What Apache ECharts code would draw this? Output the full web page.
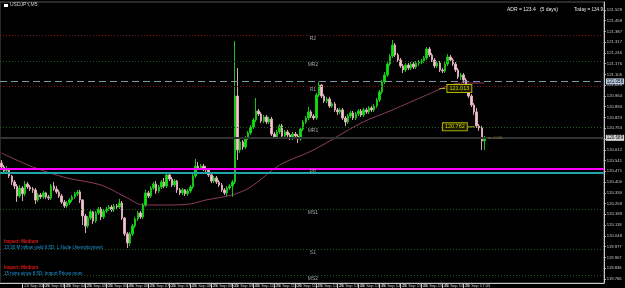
<!DOCTYPE html>
<html><head><meta charset="utf-8">
<script src="https://cdn.jsdelivr.net/npm/echarts@6/dist/echarts.min.js"></script>
<style>html,body{margin:0;padding:0;background:#000;}#c{width:625px;height:288px;}</style>
</head><body><div id="c"></div>
<script>
// ---- data ----
const timeLabels = ['20 Sep 2016','20 Sep 03:05','20 Sep 03:45','20 Sep 04:25','20 Sep 05:05','20 Sep 05:45','20 Sep 06:25','20 Sep 07:05','20 Sep 07:45','20 Sep 08:25','20 Sep 09:05','20 Sep 09:45','20 Sep 10:25','20 Sep 11:05','20 Sep 11:45','20 Sep 12:25','20 Sep 13:05','20 Sep 13:45','20 Sep 14:25','20 Sep 15:05','20 Sep 15:45','20 Sep 16:25','20 Sep 17:05','20 Sep 17:45'];
const openP = [
120.525,120.499,120.473,120.486,120.440,120.401,120.374,120.309,120.361,120.323,
120.388,120.368,120.355,120.349,120.283,120.316,120.303,120.329,120.303,120.296,
120.374,120.355,120.336,120.309,120.270,120.244,120.263,120.283,120.303,120.323,
120.336,120.283,120.178,120.113,120.165,120.205,120.146,120.198,120.224,120.172,
120.211,120.224,120.237,120.218,120.244,120.237,120.263,120.165,120.061,120.001,
120.061,120.113,120.159,120.198,120.172,120.250,120.329,120.309,120.361,120.388,
120.342,120.368,120.401,120.374,120.447,120.420,120.381,120.407,120.349,120.329,
120.349,120.323,120.342,120.368,120.440,120.505,120.492,120.505,120.486,120.480,
120.447,120.407,120.427,120.401,120.381,120.349,120.329,120.361,120.374,120.401,
120.964,120.611,120.663,120.630,120.689,120.722,120.761,120.807,120.866,120.846,
120.800,120.827,120.794,120.813,120.715,120.696,120.729,120.768,120.702,120.729,
120.709,120.689,120.715,120.702,120.683,120.748,120.794,120.820,120.860,120.833,
120.820,120.971,121.036,120.964,120.931,120.944,120.898,120.912,120.873,120.860,
120.873,120.820,120.794,120.833,120.853,120.820,120.846,120.866,120.840,120.873,
120.860,120.886,120.873,120.899,120.938,120.991,121.056,121.102,121.174,121.226,
121.298,121.233,121.200,121.161,121.135,121.167,121.148,121.174,121.154,121.180,
121.187,121.193,121.213,121.272,121.233,121.200,121.161,121.180,121.135,121.128,
121.174,121.220,121.200,121.174,121.135,121.089,121.102,121.069,121.030,120.964,
120.905,120.860,120.768,120.755,120.670];
const closeP = [
120.499,120.473,120.486,120.440,120.401,120.374,120.309,120.361,120.323,120.388,
120.368,120.355,120.349,120.283,120.316,120.303,120.329,120.303,120.296,120.374,
120.355,120.336,120.309,120.270,120.244,120.263,120.283,120.303,120.323,120.336,
120.283,120.178,120.113,120.165,120.205,120.146,120.198,120.224,120.172,120.211,
120.224,120.237,120.218,120.244,120.237,120.263,120.165,120.061,120.001,120.061,
120.113,120.159,120.198,120.172,120.250,120.329,120.309,120.361,120.388,120.342,
120.368,120.401,120.374,120.447,120.420,120.381,120.407,120.349,120.329,120.349,
120.323,120.342,120.368,120.440,120.505,120.492,120.505,120.486,120.480,120.447,
120.407,120.427,120.401,120.381,120.349,120.329,120.361,120.374,120.401,120.964,
120.611,120.663,120.630,120.689,120.722,120.761,120.807,120.866,120.846,120.800,
120.827,120.794,120.813,120.715,120.696,120.729,120.768,120.702,120.729,120.709,
120.689,120.715,120.702,120.683,120.748,120.794,120.820,120.860,120.833,120.820,
120.971,121.036,120.964,120.931,120.944,120.898,120.912,120.873,120.860,120.873,
120.820,120.794,120.833,120.853,120.820,120.846,120.866,120.840,120.873,120.860,
120.886,120.873,120.899,120.938,120.991,121.056,121.102,121.174,121.226,121.298,
121.233,121.200,121.161,121.135,121.167,121.148,121.174,121.154,121.180,121.187,
121.193,121.213,121.272,121.233,121.200,121.161,121.180,121.135,121.128,121.174,
121.220,121.200,121.174,121.135,121.089,121.102,121.069,121.030,120.964,120.905,
120.860,120.768,120.755,120.670,120.689];
const highP = [
120.545,120.512,120.505,120.492,120.447,120.414,120.388,120.381,120.374,120.407,
120.401,120.381,120.368,120.361,120.329,120.329,120.342,120.336,120.316,120.388,
120.401,120.374,120.349,120.323,120.283,120.276,120.296,120.316,120.336,120.349,
120.349,120.289,120.192,120.178,120.218,120.211,120.211,120.237,120.237,120.224,
120.237,120.250,120.250,120.257,120.257,120.290,120.276,120.172,120.074,120.074,
120.126,120.172,120.211,120.211,120.263,120.349,120.342,120.374,120.401,120.407,
120.381,120.414,120.427,120.460,120.453,120.434,120.420,120.414,120.361,120.361,
120.355,120.355,120.381,120.453,120.552,120.532,120.519,120.519,120.505,120.492,
120.460,120.440,120.440,120.414,120.394,120.361,120.374,120.388,120.414,121.324,
121.147,120.683,120.676,120.702,120.735,120.774,120.820,120.951,120.879,120.859,
120.840,120.840,120.827,120.827,120.729,120.742,120.781,120.781,120.742,120.742,
120.722,120.729,120.729,120.715,120.761,120.807,120.833,120.892,120.873,120.846,
120.984,121.056,121.043,120.977,120.958,120.958,120.925,120.925,120.886,120.886,
120.886,120.833,120.846,120.866,120.866,120.859,120.879,120.879,120.886,120.886,
120.899,120.899,120.912,120.951,121.004,121.069,121.121,121.187,121.239,121.331,
121.311,121.246,121.213,121.174,121.180,121.180,121.187,121.187,121.193,121.200,
121.207,121.226,121.285,121.285,121.246,121.213,121.193,121.193,121.148,121.187,
121.239,121.233,121.213,121.187,121.148,121.115,121.115,121.082,121.043,120.977,
120.918,120.886,120.781,120.768,120.702];
const lowP = [
120.486,120.460,120.454,120.427,120.381,120.355,120.270,120.296,120.276,120.309,
120.355,120.342,120.329,120.257,120.270,120.290,120.290,120.290,120.283,120.283,
120.342,120.323,120.296,120.257,120.231,120.231,120.250,120.270,120.290,120.309,
120.263,120.119,120.067,120.100,120.152,120.126,120.133,120.185,120.152,120.159,
120.198,120.211,120.205,120.205,120.224,120.224,120.152,120.047,119.968,119.982,
120.047,120.100,120.146,120.159,120.159,120.237,120.296,120.296,120.349,120.323,
120.329,120.355,120.361,120.361,120.407,120.368,120.368,120.329,120.316,120.316,
120.309,120.309,120.329,120.355,120.427,120.480,120.480,120.473,120.460,120.434,
120.394,120.394,120.388,120.368,120.336,120.316,120.309,120.349,120.303,120.388,
120.545,120.591,120.611,120.617,120.676,120.709,120.748,120.794,120.833,120.787,
120.787,120.781,120.781,120.702,120.683,120.683,120.715,120.689,120.689,120.696,
120.676,120.676,120.689,120.656,120.670,120.735,120.781,120.807,120.820,120.807,
120.807,120.958,120.951,120.918,120.918,120.886,120.886,120.860,120.840,120.846,
120.807,120.768,120.781,120.820,120.807,120.807,120.833,120.827,120.827,120.846,
120.846,120.860,120.860,120.886,120.925,120.977,121.043,121.089,121.161,121.213,
121.220,121.187,121.148,121.115,121.121,121.135,121.135,121.141,121.141,121.161,
121.174,121.180,121.200,121.220,121.187,121.148,121.148,121.121,121.115,121.115,
121.161,121.187,121.161,121.121,121.076,121.069,121.049,121.017,120.951,120.892,
120.840,120.755,120.735,120.611,120.611];
// moving average read at bar indexes [bar, value]
const maPoints = [[0,120.591],[12,120.499],[25,120.427],[38,120.381],[48,120.296],[54,120.250],[63,120.250],[72,120.257],[78,120.283],[88,120.316],[95,120.368],[106,120.512],[119,120.611],[137,120.787],[149,120.873],[162,120.971],[170,121.030],[175,121.049],[184,121.049]];
const priceTicks = [121.528,121.458,121.387,121.317,121.246,121.176,121.105,121.035,120.964,120.894,120.823,120.753,120.682,120.612,120.541,120.471,120.400,120.330,120.259,120.189,120.118,120.048,119.977,119.907,119.836,119.766];
const pivotNames = ['R2','MR2','R1','MR1','PP','MS1','S1','MS2'];
const pivotValues = [121.357,121.193,121.030,120.762,120.493,120.225,119.956,119.792];
const tealLevel = 120.460;
const dashedLevel = 121.056;
const bidLevel = 120.689;
const boxHigh = 121.013;
const boxLow = 120.762;
const adrText = 'ADR = 123.4   (5 days)';
const todayText = 'Today = 134.9';
const newsLines = [
  ['Impact: Medium','13:30 M inflow yield 0.5D: L.Node Unemployment'],
  ['Impact: Medium','15 mins since 8.5D: Import Prices mom']
];

// ---- chart ----
const FONT = 'Liberation Sans';
const SLOTS = 230;
const cats = [];
for (let i = 0; i < SLOTS; i++) cats.push(String(i));
const candles = openP.map((o, i) => [o, closeP[i], lowP[i], highP[i]]);
const isTimeTick = (i) => i % 8 === 0 && (i / 8) < timeLabels.length;

const markLines = pivotNames.map((n, i) => {
  const lbl = {show:true, formatter:n, position:'insideMiddleBottom', color:'#a0a0a0', fontSize:5, fontFamily:FONT, distance:1, offset:[11,0]};
  if (n === 'PP') {
    return {yAxis: pivotValues[i], lineStyle:{color:'#ff00ff', type:'solid', width:2}, label:lbl};
  }
  const red = n === 'R1' || n === 'R2';
  return {yAxis: pivotValues[i], lineStyle:{color: red ? '#8c1414' : '#1e5a1e', type:[1,2], width:1}, label:lbl};
});
markLines.push({yAxis: tealLevel, lineStyle:{color:'#1fa5a5', type:'solid', width:2}, label:{show:false}});
markLines.push({yAxis: dashedLevel, lineStyle:{color:'#8595a8', type:[7,4], width:1},
  label:{show:true, position:'end', formatter: dashedLevel.toFixed(3), color:'#000', backgroundColor:'#b8c8dc', fontSize:4.5, fontFamily:FONT, padding:[1,1,0,1], distance:2}});
markLines.push({yAxis: bidLevel, lineStyle:{color:'#333333', type:'solid', width:2},
  label:{show:true, position:'end', formatter: bidLevel.toFixed(3), color:'#000', backgroundColor:'#d8d8d8', fontSize:4.5, fontFamily:FONT, padding:[1,1,0,1], distance:2}});

const chart = echarts.init(document.getElementById('c'), null, {renderer:'canvas', width:625, height:288});
chart.setOption({
  animation:false,
  backgroundColor:'#000000',
  grid:{left:0, right:21, top:2, bottom:5, show:true, borderColor:'#555', borderWidth:1, backgroundColor:'#000'},
  xAxis:{type:'category', data:cats, boundaryGap:true,
    axisLine:{show:true, lineStyle:{color:'#c8c8c8', width:1}},
    axisTick:{show:true, alignWithLabel:true, interval:(i)=>isTimeTick(i), length:5, lineStyle:{color:'#c8c8c8'}},
    axisLabel:{show:true, interval:(i)=>isTimeTick(i), formatter:(v, i)=> isTimeTick(i) ? timeLabels[i/8] : '',
      color:'#c8c8c8', fontSize:4.2, fontFamily:FONT, align:'left', margin:1, padding:[0,0,0,2]},
    splitLine:{show:false}},
  yAxis:{type:'value', position:'right', min:119.739, max:121.580, scale:true,
    axisLine:{show:true, lineStyle:{color:'#c8c8c8', width:1}},
    axisTick:{show:true, inside:false, length:2, customValues:priceTicks, lineStyle:{color:'#c8c8c8'}},
    axisLabel:{show:true, customValues:priceTicks, formatter:(v)=>Number(v).toFixed(3), color:'#c8c8c8', fontSize:4.2, fontFamily:FONT, margin:3},
    splitLine:{show:false}},
  series:[
    {type:'candlestick', data:candles, barWidth:2,
      itemStyle:{color:'#00ee00', color0:'#f4c4cf', borderColor:'#19c419', borderColor0:'#d9a9b4', borderWidth:1},
      markLine:{silent:true, symbol:['none','none'], data:markLines},
      markPoint:{silent:true, data:[
        {coord:['168', boxHigh], symbol:'rect', symbolSize:[6,1], itemStyle:{color:'#b0b020'},
          label:{show:true, position:'right', distance:2, formatter: boxHigh.toFixed(3), color:'#d2d200', fontSize:5.5, fontFamily:FONT,
            backgroundColor:'#1a1a00', borderColor:'#b8b800', borderWidth:1, padding:[1,2,0,2]}},
        {coord:['179', boxLow], symbol:'rect', symbolSize:[7,1], itemStyle:{color:'#b0b020'},
          label:{show:true, position:'left', distance:1, formatter: boxLow.toFixed(3), color:'#d2d200', fontSize:5.5, fontFamily:FONT,
            backgroundColor:'#1a1a00', borderColor:'#b8b800', borderWidth:1, padding:[1,2,0,2]}},
        {coord:['186', bidLevel], symbol:'rect', symbolSize:[3,1], itemStyle:{color:'#807020'},
          label:{show:true, position:'right', distance:1, formatter:'+0.05', color:'#907a20', fontSize:4, fontFamily:FONT}}
      ]}
    },
    {type:'line', data:maPoints, showSymbol:false, smooth:0.3, lineStyle:{color:'#8e3c62', width:1}, z:1}
  ],
  graphic:[
    {type:'rect', shape:{x:4, y:4, width:4, height:3}, style:{fill:'#ffffff'}},
    {type:'text', x:10, y:2, style:{text:'USDJPY,M5', fill:'#cfcfcf', font:'5px '+FONT}},
    {type:'text', x:507, y:7.5, style:{text:adrText, fill:'#e8e8e8', font:'5px '+FONT}},
    {type:'text', x:574, y:7.5, style:{text:todayText, fill:'#e8e8e8', font:'4.6px '+FONT}},
    {type:'text', x:4, y:239, style:{text:newsLines[0][0], fill:'#e01818', font:'bold 4.5px '+FONT}},
    {type:'text', x:4, y:245, style:{text:newsLines[0][1], fill:'#1e9ae0', font:'4.5px '+FONT}},
    {type:'text', x:4, y:265, style:{text:newsLines[1][0], fill:'#e01818', font:'bold 4.5px '+FONT}},
    {type:'text', x:4, y:271, style:{text:newsLines[1][1], fill:'#1e9ae0', font:'4.5px '+FONT}}
  ]
});
</script></body></html>
